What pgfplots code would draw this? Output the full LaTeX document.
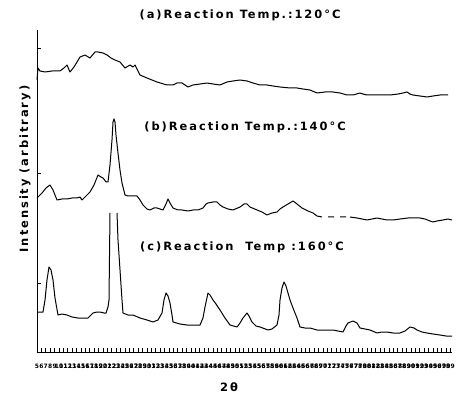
\documentclass[border=0pt]{standalone}
\usepackage{pgfplots}
\pgfplotsset{compat=1.18}
\usepackage{fontspec}
\setmainfont{DejaVu Sans}
\newfontfamily\spaced[LetterSpace=17]{DejaVu Sans}
\begin{document}
\begin{tikzpicture}
\useasboundingbox (-37bp,-41bp) rectangle (422bp,352bp);
\begin{axis}[
  scale only axis, width=415bp, height=322bp,
  xmin=0, xmax=415, ymin=0, ymax=322,
  axis x line*=bottom, axis y line*=left,
  axis line style={line width=1bp},
  tick align=inside,
  major tick length=4bp,
  xtick style={line width=0.9bp, black, draw=black},
  ytick style={line width=0.9bp, black, draw=black},
  xtick={0,4.4,...,413},
  xticklabel={\the\numexpr\ticknum+5\relax},
  xticklabel style={font=\fontsize{6}{6}\selectfont\bfseries, inner sep=0pt, anchor=north, yshift=-12bp},
  ytick={69,179,304},
  yticklabels={},
  clip=false,
  unbounded coords=jump,
]
% (a) 120 C
\addplot[black, no markers, line width=1bp, line join=round] coordinates {(0,272)(1,284)(3,281)(8,280)(15,281)(23,281)(27,284)(30,287)(33,280)(37,285)(43,295)(48,297)(53,294)(58,300)(61,300)(66,299)(70,297)(74,294)(78,292)(83,290)(88,284)(93,287)(96,285)(98,287)(103,277)(110,274)(120,270)(130,267)(136,267)(140,269)(145,269)(151,265)(156,267)(163,268)(170,269)(176,268)(183,267)(190,270)(196,271)(203,272)(210,271)(216,269)(223,267)(230,267)(236,266)(243,265)(253,264)(260,264)(266,263)(273,262)(280,259)(288,260)(296,260)(303,259)(310,257)(316,257)(323,259)(326,258)(330,257)(338,257)(346,257)(353,257)(361,258)(366,259)(370,260)(373,258)(376,257)(383,256)(390,255)(396,256)(403,257)(411,257)};
% (b) 140 C
\addplot[black, no markers, line width=1bp, line join=round] coordinates {(0,154)(1,155)(5,159)(9,164)(13,167)(16,162)(20,152)(25,153)(30,153)(35,154)(40,154)(43,155)(45,152)(49,156)(53,160)(57,167)(61,177)(64,175)(66,174)(69,170)(71,170)(73,187)(75,212)(76,230)(77,233)(78,230)(79,217)(81,199)(83,182)(85,169)(88,157)(91,156)(95,156)(100,156)(103,152)(106,147)(110,143)(113,142)(117,144)(120,144)(123,143)(126,142)(129,148)(131,153)(133,149)(136,144)(141,142)(145,142)(151,141)(156,142)(161,142)(166,144)(169,148)(171,149)(176,150)(180,150)(183,147)(186,145)(191,143)(196,142)(203,145)(207,148)(210,148)(213,145)(220,142)(225,140)(230,137)(235,139)(240,140)(243,143)(246,145)(251,148)(256,151)(260,148)(265,144)(271,141)(276,139)(280,136)(285,135)(288,nan)(291,135)(297,135)(300,nan)(303,135)(309,135)(311,nan)(313,135)(320,134)(325,133)(330,132)(335,133)(340,134)(345,133)(350,132)(356,132)(363,133)(371,134)(378,134)(383,134)(388,133)(393,131)(396,130)(400,131)(406,132)(411,133)(415,132)};
% (c) 160 C
\addplot[black, no markers, line width=1bp, line join=round] coordinates {(1,40)(6,40)(8,52)(10,72)(12,85)(14,82)(16,72)(18,54)(21,37)(25,38)(30,37)(35,35)(41,34)(46,34)(51,34)(56,39)(60,40)(63,40)(67,39)(69,39)(71,45)(72,52)(73,139)(76,nan)(80,139)(81,112)(83,82)(85,52)(86,39)(91,37)(96,37)(103,34)(110,32)(116,30)(121,32)(125,39)(127,52)(129,59)(131,56)(133,49)(135,37)(136,30)(143,28)(150,27)(156,27)(163,27)(166,34)(168,45)(171,59)(173,57)(176,52)(179,48)(183,42)(188,34)(193,27)(200,25)(203,29)(206,34)(210,39)(212,36)(215,30)(219,26)(223,25)(231,22)(235,23)(240,27)(242,37)(243,52)(245,64)(247,70)(249,66)(251,59)(253,52)(256,44)(260,34)(263,25)(268,24)(273,24)(280,22)(288,22)(296,22)(301,21)(306,20)(309,26)(311,29)(316,31)(320,29)(323,24)(328,23)(333,22)(340,19)(345,20)(350,20)(356,19)(363,19)(368,21)(373,25)(377,24)(380,22)(385,20)(390,19)(396,18)(403,17)(409,16)(415,16)};
\node[font=\spaced\bfseries\fontsize{11.5}{14}\selectfont] at (axis cs:203,337) {(a)Reaction Temp.:120°C};
\node[font=\spaced\bfseries\fontsize{11.5}{14}\selectfont] at (axis cs:208,225) {(b)Reaction Temp.:140°C};
\node[font=\spaced\bfseries\fontsize{11.5}{14}\selectfont] at (axis cs:205,105) {(c)Reaction\ \ Temp :160°C};
\node[rotate=90, font=\spaced\bfseries\fontsize{11.5}{14}\selectfont] at (axis cs:-12,183) {Intensity (arbitrary)};
\node[font=\spaced\bfseries\fontsize{11.5}{14}\selectfont] at (axis cs:192,-35) {2\,θ};
\end{axis}
\end{tikzpicture}
\end{document}
